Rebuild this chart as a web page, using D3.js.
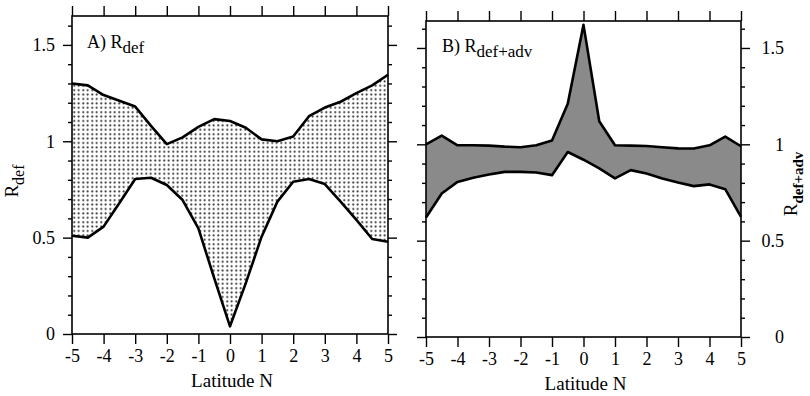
<!DOCTYPE html>
<html>
<head>
<meta charset="utf-8">
<script src="https://cdn.jsdelivr.net/npm/d3@7"></script>
<style>
  html, body { margin: 0; padding: 0; background: #fff; }
  svg text { font-family: "Liberation Serif", "DejaVu Serif", "Times New Roman", serif !important; }
</style>
</head>
<body>
<svg id="chart" width="810" height="396"></svg>
<script>
// Latitude grid (degrees N)
const latitude = [-5, -4.5, -4, -3.5, -3, -2.5, -2, -1.5, -1, -0.5, 0, 0.5, 1, 1.5, 2, 2.5, 3, 3.5, 4, 4.5, 5];

// Panel A: R_def envelope
const defUpper = [1.30, 1.29, 1.24, 1.21, 1.18, 1.08, 0.985, 1.02, 1.075, 1.115, 1.105, 1.07, 1.01, 1.00, 1.025, 1.13, 1.175, 1.205, 1.25, 1.29, 1.345];
const defLower = [0.51, 0.50, 0.557, 0.68, 0.804, 0.811, 0.773, 0.695, 0.548, 0.29, 0.04, 0.264, 0.505, 0.687, 0.79, 0.804, 0.778, 0.687, 0.592, 0.493, 0.479];

// Panel B: R_def+adv envelope
const advUpper = [1.00, 1.045, 0.995, 0.995, 0.993, 0.988, 0.985, 0.995, 1.02, 1.21, 1.62, 1.12, 0.995, 0.993, 0.991, 0.985, 0.979, 0.978, 0.995, 1.04, 0.99];
const advLower = [0.62, 0.745, 0.805, 0.826, 0.843, 0.857, 0.857, 0.854, 0.84, 0.96, 0.92, 0.875, 0.823, 0.866, 0.848, 0.823, 0.802, 0.783, 0.792, 0.767, 0.623];

// Axis ticks
const xTicks = [-5, -4, -3, -2, -1, 0, 1, 2, 3, 4, 5];
const yMajor = [0, 0.5, 1, 1.5];
const yMinor = [0.1, 0.2, 0.3, 0.4, 0.6, 0.7, 0.8, 0.9, 1.1, 1.2, 1.3, 1.4, 1.6];

const SERIF = "Liberation Serif";
const svg = d3.select("#chart");

// Stipple pattern for panel A
const defs = svg.append("defs");
const pat = defs.append("pattern")
  .attr("id", "stipple")
  .attr("patternUnits", "userSpaceOnUse")
  .attr("width", 4.5).attr("height", 4.4);
pat.append("rect").attr("width", 4.5).attr("height", 4.4).attr("fill", "#fff");
pat.append("circle").attr("cx", 2.2).attr("cy", 2.2).attr("r", 1.0).attr("fill", "#222");

function panel(opts) {
  const x = d3.scaleLinear().domain([-5, 5]).range([opts.left, opts.right]);
  const y = d3.scaleLinear().domain([0, opts.yTop]).range([opts.bottom, opts.top]);
  const g = svg.append("g");

  const rows = latitude.map((lat, i) => ({ lat, lo: opts.lower[i], hi: opts.upper[i] }));

  // Shaded envelope
  g.append("path")
    .datum(rows)
    .attr("fill", opts.fill)
    .attr("d", d3.area().x(d => x(d.lat)).y0(d => y(d.lo)).y1(d => y(d.hi)));

  // Envelope edges
  [d => d.hi, d => d.lo].forEach(acc => {
    g.append("path")
      .datum(rows)
      .attr("fill", "none")
      .attr("stroke", "#000")
      .attr("stroke-width", 2.6)
      .attr("stroke-linejoin", "round")
      .attr("d", d3.line().x(d => x(d.lat)).y(d => y(acc(d))));
  });

  // Frame
  g.append("rect")
    .attr("x", opts.left).attr("y", opts.top)
    .attr("width", opts.right - opts.left).attr("height", opts.bottom - opts.top)
    .attr("fill", "none").attr("stroke", "#000").attr("stroke-width", 1.6);

  const style = sel => {
    sel.attr("font-family", SERIF);
    sel.select(".domain").remove();
    sel.selectAll("line").attr("stroke", "#000").attr("stroke-width", 1.4);
    sel.selectAll("text").attr("font-size", 18).attr("fill", "#000").attr("font-family", SERIF);
  };

  // Bottom axis with labels
  g.append("g").attr("transform", `translate(0,${opts.bottom})`)
    .call(d3.axisBottom(x).tickValues(xTicks).tickSize(10).tickPadding(5)
      .tickFormat(d => String(d)))
    .call(style);
  // Top axis ticks only
  g.append("g").attr("transform", `translate(0,${opts.top})`)
    .call(d3.axisTop(x).tickValues(xTicks).tickSize(10).tickFormat(""))
    .call(style);

  // Vertical axes: major + minor ticks on both sides
  const leftMajor = d3.axisLeft(y).tickValues(yMajor).tickSize(9).tickPadding(8)
    .tickFormat(opts.labelSide === "left" ? (d => String(d)) : "");
  const rightMajor = d3.axisRight(y).tickValues(yMajor).tickSize(9).tickPadding(8)
    .tickFormat(opts.labelSide === "right" ? (d => String(d)) : "");

  g.append("g").attr("transform", `translate(${opts.left},0)`).call(leftMajor).call(style);
  g.append("g").attr("transform", `translate(${opts.left},0)`)
    .call(d3.axisLeft(y).tickValues(yMinor).tickSize(4).tickFormat("")).call(style);
  const rAx = g.append("g").attr("transform", `translate(${opts.right},0)`).call(rightMajor).call(style);
  g.append("g").attr("transform", `translate(${opts.right},0)`)
    .call(d3.axisRight(y).tickValues(yMinor).tickSize(4).tickFormat("")).call(style);
  if (opts.labelSide === "right") {
    rAx.selectAll("text").attr("text-anchor", "end").attr("x", 43);
  }

  // Panel title
  const t = g.append("text")
    .attr("x", opts.titleX).attr("y", opts.titleY)
    .attr("font-family", SERIF)
    .attr("font-size", 18);
  t.append("tspan").text(opts.titlePrefix + " R");
  t.append("tspan").attr("dy", 5).attr("font-size", 17).text(opts.titleSub);

  // x-axis title
  g.append("text")
    .attr("x", (opts.left + opts.right) / 2 + 2).attr("y", opts.bottom + 53)
    .attr("text-anchor", "middle").attr("font-size", 19)
    .attr("font-family", SERIF)
    .text("Latitude N");

  return { x, y };
}

panel({
  left: 72, right: 388, top: 16, bottom: 334, yTop: 1.65,
  upper: defUpper, lower: defLower, fill: "url(#stipple)",
  labelSide: "left", titleX: 87, titleY: 48, titlePrefix: "A)", titleSub: "def"
});

panel({
  left: 426, right: 741, top: 21, bottom: 337, yTop: 1.64,
  upper: advUpper, lower: advLower, fill: "#8a8a8a",
  labelSide: "right", titleX: 442, titleY: 52, titlePrefix: "B)", titleSub: "def+adv"
});

// y-axis titles
const yl = svg.append("text")
  .attr("transform", "translate(18,181) rotate(-90)")
  .attr("font-family", SERIF)
  .attr("text-anchor", "middle").attr("font-size", 19);
yl.append("tspan").text("R");
yl.append("tspan").attr("dy", 6).attr("font-size", 16).text("def");

const yr = svg.append("text")
  .attr("transform", "translate(797,184) rotate(-90)")
  .attr("font-family", SERIF)
  .attr("text-anchor", "middle").attr("font-size", 19);
yr.append("tspan").text("R");
yr.append("tspan").attr("dy", 6).attr("font-size", 15).attr("font-weight", "bold").text("def+adv");
</script>
</body>
</html>
